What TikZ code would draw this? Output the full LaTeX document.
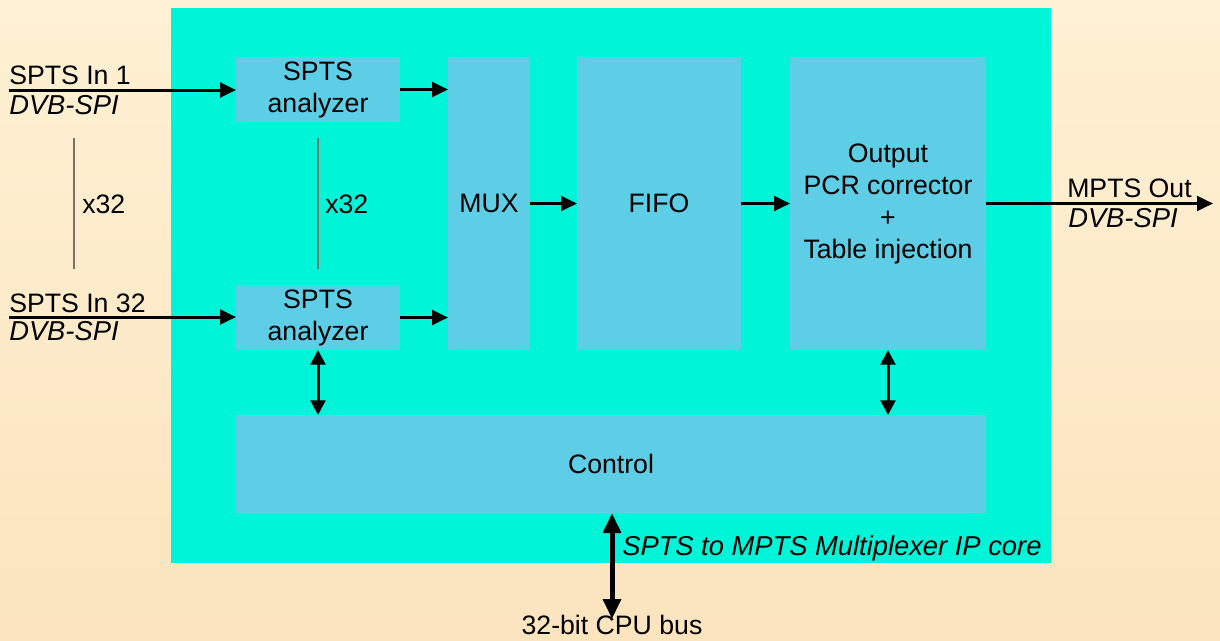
\documentclass[tikz,border=0pt]{standalone}
\usepackage{fontspec}
\setmainfont{Liberation Sans}
\usepackage{xcolor}
\usepackage{tikz}
\usetikzlibrary{arrows.meta, positioning, calc}
\definecolor{paper}{HTML}{FFF1D4}
\definecolor{paperdark}{HTML}{FBE4BE}
\definecolor{core}{HTML}{00F5D8}
\definecolor{block}{HTML}{5ECDE6}
\definecolor{rule}{HTML}{7F7060}

\begin{document}
\begin{tikzpicture}[
        x=0.75pt, y=-0.75pt,
        blk/.style={rectangle, fill=block, inner sep=0pt, outer sep=0pt, align=center, font=\fontsize{20}{24}\selectfont},
        lbl/.style={inner sep=0pt, font=\fontsize{20}{24}\selectfont},
        ital/.style={inner sep=0pt, font=\fontsize{20.5}{24}\selectfont\itshape},
        arrow/.style={-{Triangle[length=12pt, width=11pt]}, line width=2.25pt},
        both/.style={{Triangle[length=11pt, width=11pt]}-{Triangle[length=11pt, width=11pt]}, line width=2.25pt},
        bus/.style={{Triangle[length=15pt, width=13pt]}-{Triangle[length=15pt, width=13pt]}, line width=3.75pt},
        rep/.style={draw=rule, line width=0.9pt},
    ]
        \shade[top color=paper, bottom color=paperdark] (0,0) rectangle (1220,640);
        \useasboundingbox (0,0) rectangle (1220,640);
        \fill[core] (171,8) rectangle (1051,563);

        \node[blk, anchor=north west, minimum width=123pt, minimum height=48.75pt] (an1) at (236,57) {SPTS\\ analyzer};
        \node[blk, anchor=north west, minimum width=123pt, minimum height=48.75pt] (an2) at (236,285) {SPTS\\ analyzer};
        \node[blk, anchor=north west, minimum width=61.5pt, minimum height=219.75pt] (mux) at (448,57) {MUX};
        \node[blk, right=35.25pt of mux, minimum width=123pt, minimum height=219.75pt] (fifo) {FIFO};
        \node[blk, anchor=north west, minimum width=147pt, minimum height=219.75pt] (pcr) at (790,57) {Output\\ PCR corrector\\ +\\ Table injection};
        \node[blk, anchor=north west, minimum width=562.5pt, minimum height=73.5pt] (ctrl) at (236,415) {Control};

        \coordinate (in1) at (9,90);
        \coordinate (in32) at (9,317);
        \coordinate (out) at (1213,203);
        \coordinate (cpu) at (612,619);

        \node[lbl, anchor=base west] (in1name) at (9,84) {SPTS In 1};
        \node[ital, anchor=base west] (in1type) at (9,114) {DVB-SPI};
        \node[lbl, anchor=base west] (in32name) at (9,312) {SPTS In 32};
        \node[ital, anchor=base west] (in32type) at (9,340) {DVB-SPI};
        \node[lbl, anchor=base west] (outname) at (1067,197) {MPTS Out};
        \node[ital, anchor=base west] (outtype) at (1068,227) {DVB-SPI};
        \node[lbl, anchor=base west] (repin) at (82,213) {x32};
        \node[lbl, anchor=base west] (repan) at (325,213) {x32};
        \node[ital, anchor=base west] (corename) at (622,555) {SPTS to MPTS Multiplexer IP core};
        \node[lbl, anchor=base] (cpuname) at (612,634) {32-bit CPU bus};

        \draw[rep] (74,138) -- (74,269);
        \draw[rep] (318,138) -- (318,269);

        \draw[arrow] (in1) -- (in1 -| an1.west);
        \draw[arrow] (in32) -- (in32 -| an2.west);
        \draw[arrow] (an1.east) -- (an1.east -| mux.west);
        \draw[arrow] (an2.east) -- (an2.east -| mux.west);
        \draw[arrow] (mux) -- (fifo);
        \draw[arrow] (fifo) -- (pcr);
        \draw[arrow] (pcr.east) -- (pcr.east -| out);
        \draw[both] (an2.south) -- (an2.south |- ctrl.north);
        \draw[both] (pcr.south) -- (pcr.south |- ctrl.north);
        \draw[bus] (ctrl.south -| cpu) -- (cpu);
    \end{tikzpicture}
\end{document}
